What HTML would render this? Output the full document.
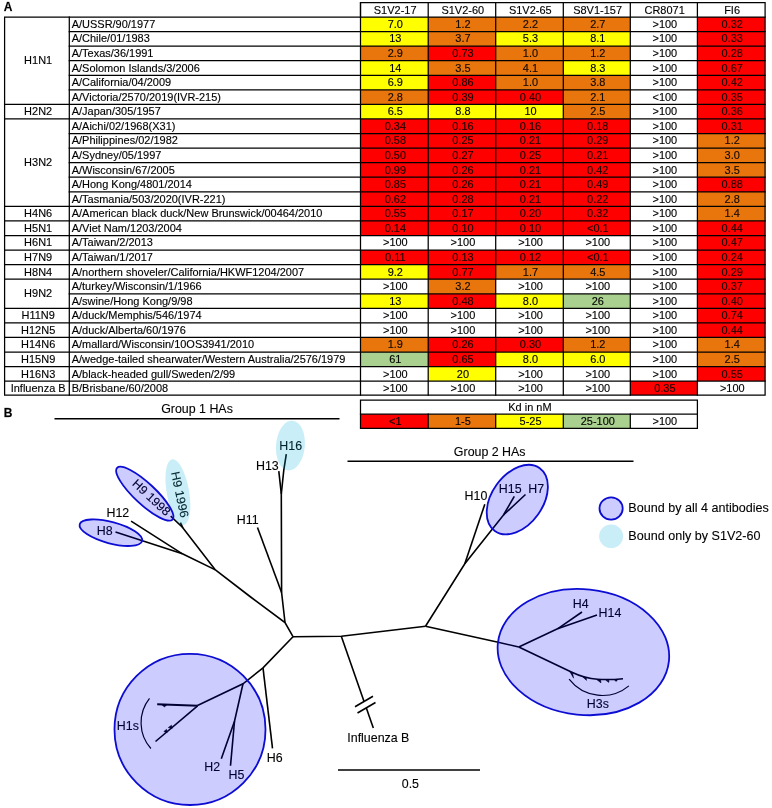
<!DOCTYPE html>
<html><head><meta charset="utf-8"><title>Figure</title>
<style>html,body{margin:0;padding:0;background:#fff;}body{width:772px;height:808px;overflow:hidden;font-family:"Liberation Sans",sans-serif;}svg{display:block;will-change:transform;}</style></head>
<body>
<svg width="772" height="808" viewBox="0 0 772 808">
<rect x="0" y="0" width="772" height="808" fill="#fff"/>
<g shape-rendering="crispEdges">
<rect x="360.50" y="17.00" width="67.70" height="14.57" fill="#ffff00"/>
<rect x="428.20" y="17.00" width="67.50" height="14.57" fill="#e8760c"/>
<rect x="495.70" y="17.00" width="67.60" height="14.57" fill="#e8760c"/>
<rect x="563.30" y="17.00" width="67.00" height="14.57" fill="#e8760c"/>
<rect x="697.40" y="17.00" width="67.70" height="14.57" fill="#ff0000"/>
<rect x="360.50" y="31.57" width="67.70" height="14.57" fill="#ffff00"/>
<rect x="428.20" y="31.57" width="67.50" height="14.57" fill="#e8760c"/>
<rect x="495.70" y="31.57" width="67.60" height="14.57" fill="#ffff00"/>
<rect x="563.30" y="31.57" width="67.00" height="14.57" fill="#ffff00"/>
<rect x="697.40" y="31.57" width="67.70" height="14.57" fill="#ff0000"/>
<rect x="360.50" y="46.13" width="67.70" height="14.57" fill="#e8760c"/>
<rect x="428.20" y="46.13" width="67.50" height="14.57" fill="#ff0000"/>
<rect x="495.70" y="46.13" width="67.60" height="14.57" fill="#e8760c"/>
<rect x="563.30" y="46.13" width="67.00" height="14.57" fill="#e8760c"/>
<rect x="697.40" y="46.13" width="67.70" height="14.57" fill="#ff0000"/>
<rect x="360.50" y="60.70" width="67.70" height="14.57" fill="#ffff00"/>
<rect x="428.20" y="60.70" width="67.50" height="14.57" fill="#e8760c"/>
<rect x="495.70" y="60.70" width="67.60" height="14.57" fill="#e8760c"/>
<rect x="563.30" y="60.70" width="67.00" height="14.57" fill="#ffff00"/>
<rect x="697.40" y="60.70" width="67.70" height="14.57" fill="#ff0000"/>
<rect x="360.50" y="75.27" width="67.70" height="14.57" fill="#ffff00"/>
<rect x="428.20" y="75.27" width="67.50" height="14.57" fill="#ff0000"/>
<rect x="495.70" y="75.27" width="67.60" height="14.57" fill="#e8760c"/>
<rect x="563.30" y="75.27" width="67.00" height="14.57" fill="#e8760c"/>
<rect x="697.40" y="75.27" width="67.70" height="14.57" fill="#ff0000"/>
<rect x="360.50" y="89.84" width="67.70" height="14.57" fill="#e8760c"/>
<rect x="428.20" y="89.84" width="67.50" height="14.57" fill="#ff0000"/>
<rect x="495.70" y="89.84" width="67.60" height="14.57" fill="#ff0000"/>
<rect x="563.30" y="89.84" width="67.00" height="14.57" fill="#e8760c"/>
<rect x="697.40" y="89.84" width="67.70" height="14.57" fill="#ff0000"/>
<rect x="360.50" y="104.40" width="67.70" height="14.57" fill="#ffff00"/>
<rect x="428.20" y="104.40" width="67.50" height="14.57" fill="#ffff00"/>
<rect x="495.70" y="104.40" width="67.60" height="14.57" fill="#ffff00"/>
<rect x="563.30" y="104.40" width="67.00" height="14.57" fill="#e8760c"/>
<rect x="697.40" y="104.40" width="67.70" height="14.57" fill="#ff0000"/>
<rect x="360.50" y="118.97" width="67.70" height="14.57" fill="#ff0000"/>
<rect x="428.20" y="118.97" width="67.50" height="14.57" fill="#ff0000"/>
<rect x="495.70" y="118.97" width="67.60" height="14.57" fill="#ff0000"/>
<rect x="563.30" y="118.97" width="67.00" height="14.57" fill="#ff0000"/>
<rect x="697.40" y="118.97" width="67.70" height="14.57" fill="#ff0000"/>
<rect x="360.50" y="133.54" width="67.70" height="14.57" fill="#ff0000"/>
<rect x="428.20" y="133.54" width="67.50" height="14.57" fill="#ff0000"/>
<rect x="495.70" y="133.54" width="67.60" height="14.57" fill="#ff0000"/>
<rect x="563.30" y="133.54" width="67.00" height="14.57" fill="#ff0000"/>
<rect x="697.40" y="133.54" width="67.70" height="14.57" fill="#e8760c"/>
<rect x="360.50" y="148.10" width="67.70" height="14.57" fill="#ff0000"/>
<rect x="428.20" y="148.10" width="67.50" height="14.57" fill="#ff0000"/>
<rect x="495.70" y="148.10" width="67.60" height="14.57" fill="#ff0000"/>
<rect x="563.30" y="148.10" width="67.00" height="14.57" fill="#ff0000"/>
<rect x="697.40" y="148.10" width="67.70" height="14.57" fill="#e8760c"/>
<rect x="360.50" y="162.67" width="67.70" height="14.57" fill="#ff0000"/>
<rect x="428.20" y="162.67" width="67.50" height="14.57" fill="#ff0000"/>
<rect x="495.70" y="162.67" width="67.60" height="14.57" fill="#ff0000"/>
<rect x="563.30" y="162.67" width="67.00" height="14.57" fill="#ff0000"/>
<rect x="697.40" y="162.67" width="67.70" height="14.57" fill="#e8760c"/>
<rect x="360.50" y="177.24" width="67.70" height="14.57" fill="#ff0000"/>
<rect x="428.20" y="177.24" width="67.50" height="14.57" fill="#ff0000"/>
<rect x="495.70" y="177.24" width="67.60" height="14.57" fill="#ff0000"/>
<rect x="563.30" y="177.24" width="67.00" height="14.57" fill="#ff0000"/>
<rect x="697.40" y="177.24" width="67.70" height="14.57" fill="#ff0000"/>
<rect x="360.50" y="191.80" width="67.70" height="14.57" fill="#ff0000"/>
<rect x="428.20" y="191.80" width="67.50" height="14.57" fill="#ff0000"/>
<rect x="495.70" y="191.80" width="67.60" height="14.57" fill="#ff0000"/>
<rect x="563.30" y="191.80" width="67.00" height="14.57" fill="#ff0000"/>
<rect x="697.40" y="191.80" width="67.70" height="14.57" fill="#e8760c"/>
<rect x="360.50" y="206.37" width="67.70" height="14.57" fill="#ff0000"/>
<rect x="428.20" y="206.37" width="67.50" height="14.57" fill="#ff0000"/>
<rect x="495.70" y="206.37" width="67.60" height="14.57" fill="#ff0000"/>
<rect x="563.30" y="206.37" width="67.00" height="14.57" fill="#ff0000"/>
<rect x="697.40" y="206.37" width="67.70" height="14.57" fill="#e8760c"/>
<rect x="360.50" y="220.94" width="67.70" height="14.57" fill="#ff0000"/>
<rect x="428.20" y="220.94" width="67.50" height="14.57" fill="#ff0000"/>
<rect x="495.70" y="220.94" width="67.60" height="14.57" fill="#ff0000"/>
<rect x="563.30" y="220.94" width="67.00" height="14.57" fill="#ff0000"/>
<rect x="697.40" y="220.94" width="67.70" height="14.57" fill="#ff0000"/>
<rect x="697.40" y="235.50" width="67.70" height="14.57" fill="#ff0000"/>
<rect x="360.50" y="250.07" width="67.70" height="14.57" fill="#ff0000"/>
<rect x="428.20" y="250.07" width="67.50" height="14.57" fill="#ff0000"/>
<rect x="495.70" y="250.07" width="67.60" height="14.57" fill="#ff0000"/>
<rect x="563.30" y="250.07" width="67.00" height="14.57" fill="#ff0000"/>
<rect x="697.40" y="250.07" width="67.70" height="14.57" fill="#ff0000"/>
<rect x="360.50" y="264.64" width="67.70" height="14.57" fill="#ffff00"/>
<rect x="428.20" y="264.64" width="67.50" height="14.57" fill="#ff0000"/>
<rect x="495.70" y="264.64" width="67.60" height="14.57" fill="#e8760c"/>
<rect x="563.30" y="264.64" width="67.00" height="14.57" fill="#e8760c"/>
<rect x="697.40" y="264.64" width="67.70" height="14.57" fill="#ff0000"/>
<rect x="428.20" y="279.21" width="67.50" height="14.57" fill="#e8760c"/>
<rect x="697.40" y="279.21" width="67.70" height="14.57" fill="#ff0000"/>
<rect x="360.50" y="293.77" width="67.70" height="14.57" fill="#ffff00"/>
<rect x="428.20" y="293.77" width="67.50" height="14.57" fill="#ff0000"/>
<rect x="495.70" y="293.77" width="67.60" height="14.57" fill="#ffff00"/>
<rect x="563.30" y="293.77" width="67.00" height="14.57" fill="#a9d08e"/>
<rect x="697.40" y="293.77" width="67.70" height="14.57" fill="#ff0000"/>
<rect x="697.40" y="308.34" width="67.70" height="14.57" fill="#ff0000"/>
<rect x="697.40" y="322.91" width="67.70" height="14.57" fill="#ff0000"/>
<rect x="360.50" y="337.47" width="67.70" height="14.57" fill="#e8760c"/>
<rect x="428.20" y="337.47" width="67.50" height="14.57" fill="#ff0000"/>
<rect x="495.70" y="337.47" width="67.60" height="14.57" fill="#ff0000"/>
<rect x="563.30" y="337.47" width="67.00" height="14.57" fill="#e8760c"/>
<rect x="697.40" y="337.47" width="67.70" height="14.57" fill="#e8760c"/>
<rect x="360.50" y="352.04" width="67.70" height="14.57" fill="#a9d08e"/>
<rect x="428.20" y="352.04" width="67.50" height="14.57" fill="#ff0000"/>
<rect x="495.70" y="352.04" width="67.60" height="14.57" fill="#ffff00"/>
<rect x="563.30" y="352.04" width="67.00" height="14.57" fill="#ffff00"/>
<rect x="697.40" y="352.04" width="67.70" height="14.57" fill="#e8760c"/>
<rect x="428.20" y="366.61" width="67.50" height="14.57" fill="#ffff00"/>
<rect x="697.40" y="366.61" width="67.70" height="14.57" fill="#ff0000"/>
<rect x="630.30" y="381.18" width="67.10" height="14.02" fill="#ff0000"/>
</g>
<rect x="360.50" y="414.20" width="67.70" height="14.20" fill="#ff0000"/>
<rect x="428.20" y="414.20" width="67.50" height="14.20" fill="#e8760c"/>
<rect x="495.70" y="414.20" width="67.60" height="14.20" fill="#ffff00"/>
<rect x="563.30" y="414.20" width="67.00" height="14.20" fill="#a9d08e"/>
<g stroke="#000" stroke-width="1.25" fill="none" stroke-linecap="square">
<path d="M4.6 17.0H765.1V395.2H4.6Z"/>
<path d="M69.3 17.0V395.2"/>
<path d="M360.5 17.0V2.7H765.1V17.0"/>
<path d="M360.5 2.7V395.2"/>
<path d="M428.2 2.7V395.2"/>
<path d="M495.7 2.7V395.2"/>
<path d="M563.3 2.7V395.2"/>
<path d="M630.3 2.7V395.2"/>
<path d="M697.4 2.7V395.2"/>
<path d="M69.3 31.57H765.1"/>
<path d="M69.3 46.13H765.1"/>
<path d="M69.3 60.70H765.1"/>
<path d="M69.3 75.27H765.1"/>
<path d="M69.3 89.84H765.1"/>
<path d="M4.6 104.40H765.1"/>
<path d="M4.6 118.97H765.1"/>
<path d="M69.3 133.54H765.1"/>
<path d="M69.3 148.10H765.1"/>
<path d="M69.3 162.67H765.1"/>
<path d="M69.3 177.24H765.1"/>
<path d="M69.3 191.80H765.1"/>
<path d="M4.6 206.37H765.1"/>
<path d="M4.6 220.94H765.1"/>
<path d="M4.6 235.50H765.1"/>
<path d="M4.6 250.07H765.1"/>
<path d="M4.6 264.64H765.1"/>
<path d="M4.6 279.21H765.1"/>
<path d="M69.3 293.77H765.1"/>
<path d="M4.6 308.34H765.1"/>
<path d="M4.6 322.91H765.1"/>
<path d="M4.6 337.47H765.1"/>
<path d="M4.6 352.04H765.1"/>
<path d="M4.6 366.61H765.1"/>
<path d="M4.6 381.18H765.1"/>
<path d="M360.5 400.0H697.4V428.4H360.5Z"/>
<path d="M360.5 414.2H697.4"/>
<path d="M428.2 414.2V428.4"/>
<path d="M495.7 414.2V428.4"/>
<path d="M563.3 414.2V428.4"/>
<path d="M630.3 414.2V428.4"/>
</g>
<g font-family="Liberation Sans, sans-serif" font-size="10.15" fill="#000" stroke="#000" stroke-width="0.22" stroke-opacity="0.55">
<text transform="translate(71.70 27.90) scale(1.083 1)" text-anchor="start">A/USSR/90/1977</text>
<text transform="translate(395.35 27.90) scale(1.083 1)" text-anchor="middle" fill="#000">7.0</text>
<text transform="translate(462.95 27.90) scale(1.083 1)" text-anchor="middle" fill="#140a00">1.2</text>
<text transform="translate(530.50 27.90) scale(1.083 1)" text-anchor="middle" fill="#140a00">2.2</text>
<text transform="translate(597.80 27.90) scale(1.083 1)" text-anchor="middle" fill="#140a00">2.7</text>
<text transform="translate(664.85 27.90) scale(1.083 1)" text-anchor="middle" fill="#000">&gt;100</text>
<text transform="translate(732.25 27.90) scale(1.083 1)" text-anchor="middle" fill="#200000">0.32</text>
<text transform="translate(71.70 42.47) scale(1.083 1)" text-anchor="start">A/Chile/01/1983</text>
<text transform="translate(395.35 42.47) scale(1.083 1)" text-anchor="middle" fill="#000">13</text>
<text transform="translate(462.95 42.47) scale(1.083 1)" text-anchor="middle" fill="#140a00">3.7</text>
<text transform="translate(530.50 42.47) scale(1.083 1)" text-anchor="middle" fill="#000">5.3</text>
<text transform="translate(597.80 42.47) scale(1.083 1)" text-anchor="middle" fill="#000">8.1</text>
<text transform="translate(664.85 42.47) scale(1.083 1)" text-anchor="middle" fill="#000">&gt;100</text>
<text transform="translate(732.25 42.47) scale(1.083 1)" text-anchor="middle" fill="#200000">0.33</text>
<text transform="translate(71.70 57.03) scale(1.083 1)" text-anchor="start">A/Texas/36/1991</text>
<text transform="translate(395.35 57.03) scale(1.083 1)" text-anchor="middle" fill="#140a00">2.9</text>
<text transform="translate(462.95 57.03) scale(1.083 1)" text-anchor="middle" fill="#200000">0.73</text>
<text transform="translate(530.50 57.03) scale(1.083 1)" text-anchor="middle" fill="#140a00">1.0</text>
<text transform="translate(597.80 57.03) scale(1.083 1)" text-anchor="middle" fill="#140a00">1.2</text>
<text transform="translate(664.85 57.03) scale(1.083 1)" text-anchor="middle" fill="#000">&gt;100</text>
<text transform="translate(732.25 57.03) scale(1.083 1)" text-anchor="middle" fill="#200000">0.28</text>
<text transform="translate(71.70 71.60) scale(1.083 1)" text-anchor="start">A/Solomon Islands/3/2006</text>
<text transform="translate(395.35 71.60) scale(1.083 1)" text-anchor="middle" fill="#000">14</text>
<text transform="translate(462.95 71.60) scale(1.083 1)" text-anchor="middle" fill="#140a00">3.5</text>
<text transform="translate(530.50 71.60) scale(1.083 1)" text-anchor="middle" fill="#140a00">4.1</text>
<text transform="translate(597.80 71.60) scale(1.083 1)" text-anchor="middle" fill="#000">8.3</text>
<text transform="translate(664.85 71.60) scale(1.083 1)" text-anchor="middle" fill="#000">&gt;100</text>
<text transform="translate(732.25 71.60) scale(1.083 1)" text-anchor="middle" fill="#200000">0.67</text>
<text transform="translate(71.70 86.17) scale(1.083 1)" text-anchor="start">A/California/04/2009</text>
<text transform="translate(395.35 86.17) scale(1.083 1)" text-anchor="middle" fill="#000">6.9</text>
<text transform="translate(462.95 86.17) scale(1.083 1)" text-anchor="middle" fill="#200000">0.86</text>
<text transform="translate(530.50 86.17) scale(1.083 1)" text-anchor="middle" fill="#140a00">1.0</text>
<text transform="translate(597.80 86.17) scale(1.083 1)" text-anchor="middle" fill="#140a00">3.8</text>
<text transform="translate(664.85 86.17) scale(1.083 1)" text-anchor="middle" fill="#000">&gt;100</text>
<text transform="translate(732.25 86.17) scale(1.083 1)" text-anchor="middle" fill="#200000">0.42</text>
<text transform="translate(71.70 100.74) scale(1.083 1)" text-anchor="start">A/Victoria/2570/2019(IVR-215)</text>
<text transform="translate(395.35 100.74) scale(1.083 1)" text-anchor="middle" fill="#140a00">2.8</text>
<text transform="translate(462.95 100.74) scale(1.083 1)" text-anchor="middle" fill="#200000">0.39</text>
<text transform="translate(530.50 100.74) scale(1.083 1)" text-anchor="middle" fill="#200000">0.40</text>
<text transform="translate(597.80 100.74) scale(1.083 1)" text-anchor="middle" fill="#140a00">2.1</text>
<text transform="translate(664.85 100.74) scale(1.083 1)" text-anchor="middle" fill="#000">&lt;100</text>
<text transform="translate(732.25 100.74) scale(1.083 1)" text-anchor="middle" fill="#200000">0.35</text>
<text transform="translate(71.70 115.30) scale(1.083 1)" text-anchor="start">A/Japan/305/1957</text>
<text transform="translate(395.35 115.30) scale(1.083 1)" text-anchor="middle" fill="#000">6.5</text>
<text transform="translate(462.95 115.30) scale(1.083 1)" text-anchor="middle" fill="#000">8.8</text>
<text transform="translate(530.50 115.30) scale(1.083 1)" text-anchor="middle" fill="#000">10</text>
<text transform="translate(597.80 115.30) scale(1.083 1)" text-anchor="middle" fill="#140a00">2.5</text>
<text transform="translate(664.85 115.30) scale(1.083 1)" text-anchor="middle" fill="#000">&gt;100</text>
<text transform="translate(732.25 115.30) scale(1.083 1)" text-anchor="middle" fill="#200000">0.36</text>
<text transform="translate(71.70 129.87) scale(1.083 1)" text-anchor="start">A/Aichi/02/1968(X31)</text>
<text transform="translate(395.35 129.87) scale(1.083 1)" text-anchor="middle" fill="#200000">0.34</text>
<text transform="translate(462.95 129.87) scale(1.083 1)" text-anchor="middle" fill="#200000">0.16</text>
<text transform="translate(530.50 129.87) scale(1.083 1)" text-anchor="middle" fill="#200000">0.16</text>
<text transform="translate(597.80 129.87) scale(1.083 1)" text-anchor="middle" fill="#200000">0.18</text>
<text transform="translate(664.85 129.87) scale(1.083 1)" text-anchor="middle" fill="#000">&gt;100</text>
<text transform="translate(732.25 129.87) scale(1.083 1)" text-anchor="middle" fill="#200000">0.31</text>
<text transform="translate(71.70 144.44) scale(1.083 1)" text-anchor="start">A/Philippines/02/1982</text>
<text transform="translate(395.35 144.44) scale(1.083 1)" text-anchor="middle" fill="#200000">0.58</text>
<text transform="translate(462.95 144.44) scale(1.083 1)" text-anchor="middle" fill="#200000">0.25</text>
<text transform="translate(530.50 144.44) scale(1.083 1)" text-anchor="middle" fill="#200000">0.21</text>
<text transform="translate(597.80 144.44) scale(1.083 1)" text-anchor="middle" fill="#200000">0.29</text>
<text transform="translate(664.85 144.44) scale(1.083 1)" text-anchor="middle" fill="#000">&gt;100</text>
<text transform="translate(732.25 144.44) scale(1.083 1)" text-anchor="middle" fill="#140a00">1.2</text>
<text transform="translate(71.70 159.00) scale(1.083 1)" text-anchor="start">A/Sydney/05/1997</text>
<text transform="translate(395.35 159.00) scale(1.083 1)" text-anchor="middle" fill="#200000">0.50</text>
<text transform="translate(462.95 159.00) scale(1.083 1)" text-anchor="middle" fill="#200000">0.27</text>
<text transform="translate(530.50 159.00) scale(1.083 1)" text-anchor="middle" fill="#200000">0.25</text>
<text transform="translate(597.80 159.00) scale(1.083 1)" text-anchor="middle" fill="#200000">0.21</text>
<text transform="translate(664.85 159.00) scale(1.083 1)" text-anchor="middle" fill="#000">&gt;100</text>
<text transform="translate(732.25 159.00) scale(1.083 1)" text-anchor="middle" fill="#140a00">3.0</text>
<text transform="translate(71.70 173.57) scale(1.083 1)" text-anchor="start">A/Wisconsin/67/2005</text>
<text transform="translate(395.35 173.57) scale(1.083 1)" text-anchor="middle" fill="#200000">0.99</text>
<text transform="translate(462.95 173.57) scale(1.083 1)" text-anchor="middle" fill="#200000">0.26</text>
<text transform="translate(530.50 173.57) scale(1.083 1)" text-anchor="middle" fill="#200000">0.21</text>
<text transform="translate(597.80 173.57) scale(1.083 1)" text-anchor="middle" fill="#200000">0.42</text>
<text transform="translate(664.85 173.57) scale(1.083 1)" text-anchor="middle" fill="#000">&gt;100</text>
<text transform="translate(732.25 173.57) scale(1.083 1)" text-anchor="middle" fill="#140a00">3.5</text>
<text transform="translate(71.70 188.14) scale(1.083 1)" text-anchor="start">A/Hong Kong/4801/2014</text>
<text transform="translate(395.35 188.14) scale(1.083 1)" text-anchor="middle" fill="#200000">0.85</text>
<text transform="translate(462.95 188.14) scale(1.083 1)" text-anchor="middle" fill="#200000">0.26</text>
<text transform="translate(530.50 188.14) scale(1.083 1)" text-anchor="middle" fill="#200000">0.21</text>
<text transform="translate(597.80 188.14) scale(1.083 1)" text-anchor="middle" fill="#200000">0.49</text>
<text transform="translate(664.85 188.14) scale(1.083 1)" text-anchor="middle" fill="#000">&gt;100</text>
<text transform="translate(732.25 188.14) scale(1.083 1)" text-anchor="middle" fill="#200000">0.88</text>
<text transform="translate(71.70 202.70) scale(1.083 1)" text-anchor="start">A/Tasmania/503/2020(IVR-221)</text>
<text transform="translate(395.35 202.70) scale(1.083 1)" text-anchor="middle" fill="#200000">0.62</text>
<text transform="translate(462.95 202.70) scale(1.083 1)" text-anchor="middle" fill="#200000">0.28</text>
<text transform="translate(530.50 202.70) scale(1.083 1)" text-anchor="middle" fill="#200000">0.21</text>
<text transform="translate(597.80 202.70) scale(1.083 1)" text-anchor="middle" fill="#200000">0.22</text>
<text transform="translate(664.85 202.70) scale(1.083 1)" text-anchor="middle" fill="#000">&gt;100</text>
<text transform="translate(732.25 202.70) scale(1.083 1)" text-anchor="middle" fill="#140a00">2.8</text>
<text transform="translate(71.70 217.27) scale(1.083 1)" text-anchor="start">A/American black duck/New Brunswick/00464/2010</text>
<text transform="translate(395.35 217.27) scale(1.083 1)" text-anchor="middle" fill="#200000">0.55</text>
<text transform="translate(462.95 217.27) scale(1.083 1)" text-anchor="middle" fill="#200000">0.17</text>
<text transform="translate(530.50 217.27) scale(1.083 1)" text-anchor="middle" fill="#200000">0.20</text>
<text transform="translate(597.80 217.27) scale(1.083 1)" text-anchor="middle" fill="#200000">0.32</text>
<text transform="translate(664.85 217.27) scale(1.083 1)" text-anchor="middle" fill="#000">&gt;100</text>
<text transform="translate(732.25 217.27) scale(1.083 1)" text-anchor="middle" fill="#140a00">1.4</text>
<text transform="translate(71.70 231.84) scale(1.083 1)" text-anchor="start">A/Viet Nam/1203/2004</text>
<text transform="translate(395.35 231.84) scale(1.083 1)" text-anchor="middle" fill="#200000">0.14</text>
<text transform="translate(462.95 231.84) scale(1.083 1)" text-anchor="middle" fill="#200000">0.10</text>
<text transform="translate(530.50 231.84) scale(1.083 1)" text-anchor="middle" fill="#200000">0.10</text>
<text transform="translate(597.80 231.84) scale(1.083 1)" text-anchor="middle" fill="#200000">&lt;0.1</text>
<text transform="translate(664.85 231.84) scale(1.083 1)" text-anchor="middle" fill="#000">&gt;100</text>
<text transform="translate(732.25 231.84) scale(1.083 1)" text-anchor="middle" fill="#200000">0.44</text>
<text transform="translate(71.70 246.41) scale(1.083 1)" text-anchor="start">A/Taiwan/2/2013</text>
<text transform="translate(395.35 246.41) scale(1.083 1)" text-anchor="middle" fill="#000">&gt;100</text>
<text transform="translate(462.95 246.41) scale(1.083 1)" text-anchor="middle" fill="#000">&gt;100</text>
<text transform="translate(530.50 246.41) scale(1.083 1)" text-anchor="middle" fill="#000">&gt;100</text>
<text transform="translate(597.80 246.41) scale(1.083 1)" text-anchor="middle" fill="#000">&gt;100</text>
<text transform="translate(664.85 246.41) scale(1.083 1)" text-anchor="middle" fill="#000">&gt;100</text>
<text transform="translate(732.25 246.41) scale(1.083 1)" text-anchor="middle" fill="#200000">0.47</text>
<text transform="translate(71.70 260.97) scale(1.083 1)" text-anchor="start">A/Taiwan/1/2017</text>
<text transform="translate(395.35 260.97) scale(1.083 1)" text-anchor="middle" fill="#200000">0.11</text>
<text transform="translate(462.95 260.97) scale(1.083 1)" text-anchor="middle" fill="#200000">0.13</text>
<text transform="translate(530.50 260.97) scale(1.083 1)" text-anchor="middle" fill="#200000">0.12</text>
<text transform="translate(597.80 260.97) scale(1.083 1)" text-anchor="middle" fill="#200000">&lt;0.1</text>
<text transform="translate(664.85 260.97) scale(1.083 1)" text-anchor="middle" fill="#000">&gt;100</text>
<text transform="translate(732.25 260.97) scale(1.083 1)" text-anchor="middle" fill="#200000">0.24</text>
<text transform="translate(71.70 275.54) scale(1.083 1)" text-anchor="start">A/northern shoveler/California/HKWF1204/2007</text>
<text transform="translate(395.35 275.54) scale(1.083 1)" text-anchor="middle" fill="#000">9.2</text>
<text transform="translate(462.95 275.54) scale(1.083 1)" text-anchor="middle" fill="#200000">0.77</text>
<text transform="translate(530.50 275.54) scale(1.083 1)" text-anchor="middle" fill="#140a00">1.7</text>
<text transform="translate(597.80 275.54) scale(1.083 1)" text-anchor="middle" fill="#140a00">4.5</text>
<text transform="translate(664.85 275.54) scale(1.083 1)" text-anchor="middle" fill="#000">&gt;100</text>
<text transform="translate(732.25 275.54) scale(1.083 1)" text-anchor="middle" fill="#200000">0.29</text>
<text transform="translate(71.70 290.11) scale(1.083 1)" text-anchor="start">A/turkey/Wisconsin/1/1966</text>
<text transform="translate(395.35 290.11) scale(1.083 1)" text-anchor="middle" fill="#000">&gt;100</text>
<text transform="translate(462.95 290.11) scale(1.083 1)" text-anchor="middle" fill="#140a00">3.2</text>
<text transform="translate(530.50 290.11) scale(1.083 1)" text-anchor="middle" fill="#000">&gt;100</text>
<text transform="translate(597.80 290.11) scale(1.083 1)" text-anchor="middle" fill="#000">&gt;100</text>
<text transform="translate(664.85 290.11) scale(1.083 1)" text-anchor="middle" fill="#000">&gt;100</text>
<text transform="translate(732.25 290.11) scale(1.083 1)" text-anchor="middle" fill="#200000">0.37</text>
<text transform="translate(71.70 304.67) scale(1.083 1)" text-anchor="start">A/swine/Hong Kong/9/98</text>
<text transform="translate(395.35 304.67) scale(1.083 1)" text-anchor="middle" fill="#000">13</text>
<text transform="translate(462.95 304.67) scale(1.083 1)" text-anchor="middle" fill="#200000">0.48</text>
<text transform="translate(530.50 304.67) scale(1.083 1)" text-anchor="middle" fill="#000">8.0</text>
<text transform="translate(597.80 304.67) scale(1.083 1)" text-anchor="middle" fill="#000">26</text>
<text transform="translate(664.85 304.67) scale(1.083 1)" text-anchor="middle" fill="#000">&gt;100</text>
<text transform="translate(732.25 304.67) scale(1.083 1)" text-anchor="middle" fill="#200000">0.40</text>
<text transform="translate(71.70 319.24) scale(1.083 1)" text-anchor="start">A/duck/Memphis/546/1974</text>
<text transform="translate(395.35 319.24) scale(1.083 1)" text-anchor="middle" fill="#000">&gt;100</text>
<text transform="translate(462.95 319.24) scale(1.083 1)" text-anchor="middle" fill="#000">&gt;100</text>
<text transform="translate(530.50 319.24) scale(1.083 1)" text-anchor="middle" fill="#000">&gt;100</text>
<text transform="translate(597.80 319.24) scale(1.083 1)" text-anchor="middle" fill="#000">&gt;100</text>
<text transform="translate(664.85 319.24) scale(1.083 1)" text-anchor="middle" fill="#000">&gt;100</text>
<text transform="translate(732.25 319.24) scale(1.083 1)" text-anchor="middle" fill="#200000">0.74</text>
<text transform="translate(71.70 333.81) scale(1.083 1)" text-anchor="start">A/duck/Alberta/60/1976</text>
<text transform="translate(395.35 333.81) scale(1.083 1)" text-anchor="middle" fill="#000">&gt;100</text>
<text transform="translate(462.95 333.81) scale(1.083 1)" text-anchor="middle" fill="#000">&gt;100</text>
<text transform="translate(530.50 333.81) scale(1.083 1)" text-anchor="middle" fill="#000">&gt;100</text>
<text transform="translate(597.80 333.81) scale(1.083 1)" text-anchor="middle" fill="#000">&gt;100</text>
<text transform="translate(664.85 333.81) scale(1.083 1)" text-anchor="middle" fill="#000">&gt;100</text>
<text transform="translate(732.25 333.81) scale(1.083 1)" text-anchor="middle" fill="#200000">0.44</text>
<text transform="translate(71.70 348.37) scale(1.083 1)" text-anchor="start">A/mallard/Wisconsin/10OS3941/2010</text>
<text transform="translate(395.35 348.37) scale(1.083 1)" text-anchor="middle" fill="#140a00">1.9</text>
<text transform="translate(462.95 348.37) scale(1.083 1)" text-anchor="middle" fill="#200000">0.26</text>
<text transform="translate(530.50 348.37) scale(1.083 1)" text-anchor="middle" fill="#200000">0.30</text>
<text transform="translate(597.80 348.37) scale(1.083 1)" text-anchor="middle" fill="#140a00">1.2</text>
<text transform="translate(664.85 348.37) scale(1.083 1)" text-anchor="middle" fill="#000">&gt;100</text>
<text transform="translate(732.25 348.37) scale(1.083 1)" text-anchor="middle" fill="#140a00">1.4</text>
<text transform="translate(71.70 362.94) scale(1.083 1)" text-anchor="start">A/wedge-tailed shearwater/Western Australia/2576/1979</text>
<text transform="translate(395.35 362.94) scale(1.083 1)" text-anchor="middle" fill="#000">61</text>
<text transform="translate(462.95 362.94) scale(1.083 1)" text-anchor="middle" fill="#200000">0.65</text>
<text transform="translate(530.50 362.94) scale(1.083 1)" text-anchor="middle" fill="#000">8.0</text>
<text transform="translate(597.80 362.94) scale(1.083 1)" text-anchor="middle" fill="#000">6.0</text>
<text transform="translate(664.85 362.94) scale(1.083 1)" text-anchor="middle" fill="#000">&gt;100</text>
<text transform="translate(732.25 362.94) scale(1.083 1)" text-anchor="middle" fill="#140a00">2.5</text>
<text transform="translate(71.70 377.51) scale(1.083 1)" text-anchor="start">A/black-headed gull/Sweden/2/99</text>
<text transform="translate(395.35 377.51) scale(1.083 1)" text-anchor="middle" fill="#000">&gt;100</text>
<text transform="translate(462.95 377.51) scale(1.083 1)" text-anchor="middle" fill="#000">20</text>
<text transform="translate(530.50 377.51) scale(1.083 1)" text-anchor="middle" fill="#000">&gt;100</text>
<text transform="translate(597.80 377.51) scale(1.083 1)" text-anchor="middle" fill="#000">&gt;100</text>
<text transform="translate(664.85 377.51) scale(1.083 1)" text-anchor="middle" fill="#000">&gt;100</text>
<text transform="translate(732.25 377.51) scale(1.083 1)" text-anchor="middle" fill="#200000">0.55</text>
<text transform="translate(71.70 392.07) scale(1.083 1)" text-anchor="start">B/Brisbane/60/2008</text>
<text transform="translate(395.35 392.07) scale(1.083 1)" text-anchor="middle" fill="#000">&gt;100</text>
<text transform="translate(462.95 392.07) scale(1.083 1)" text-anchor="middle" fill="#000">&gt;100</text>
<text transform="translate(530.50 392.07) scale(1.083 1)" text-anchor="middle" fill="#000">&gt;100</text>
<text transform="translate(597.80 392.07) scale(1.083 1)" text-anchor="middle" fill="#000">&gt;100</text>
<text transform="translate(664.85 392.07) scale(1.083 1)" text-anchor="middle" fill="#200000">0.35</text>
<text transform="translate(732.25 392.07) scale(1.083 1)" text-anchor="middle" fill="#000">&gt;100</text>
<text transform="translate(38.15 64.30) scale(1.083 1)" text-anchor="middle">H1N1</text>
<text transform="translate(38.15 115.30) scale(1.083 1)" text-anchor="middle">H2N2</text>
<text transform="translate(38.15 166.27) scale(1.083 1)" text-anchor="middle">H3N2</text>
<text transform="translate(38.15 217.27) scale(1.083 1)" text-anchor="middle">H4N6</text>
<text transform="translate(38.15 231.84) scale(1.083 1)" text-anchor="middle">H5N1</text>
<text transform="translate(38.15 246.41) scale(1.083 1)" text-anchor="middle">H6N1</text>
<text transform="translate(38.15 260.97) scale(1.083 1)" text-anchor="middle">H7N9</text>
<text transform="translate(38.15 275.54) scale(1.083 1)" text-anchor="middle">H8N4</text>
<text transform="translate(38.15 297.37) scale(1.083 1)" text-anchor="middle">H9N2</text>
<text transform="translate(38.15 319.24) scale(1.083 1)" text-anchor="middle">H11N9</text>
<text transform="translate(38.15 333.81) scale(1.083 1)" text-anchor="middle">H12N5</text>
<text transform="translate(38.15 348.37) scale(1.083 1)" text-anchor="middle">H14N6</text>
<text transform="translate(38.15 362.94) scale(1.083 1)" text-anchor="middle">H15N9</text>
<text transform="translate(38.15 377.51) scale(1.083 1)" text-anchor="middle">H16N3</text>
<text transform="translate(38.15 392.07) scale(1.083 1)" text-anchor="middle">Influenza B</text>
<text transform="translate(395.15 13.60) scale(1.083 1)" text-anchor="middle">S1V2-17</text>
<text transform="translate(462.75 13.60) scale(1.083 1)" text-anchor="middle">S1V2-60</text>
<text transform="translate(530.30 13.60) scale(1.083 1)" text-anchor="middle">S1V2-65</text>
<text transform="translate(597.60 13.60) scale(1.083 1)" text-anchor="middle">S8V1-157</text>
<text transform="translate(664.65 13.60) scale(1.083 1)" text-anchor="middle">CR8071</text>
<text transform="translate(732.05 13.60) scale(1.083 1)" text-anchor="middle">FI6</text>
<text transform="translate(529.95 410.50) scale(1.083 1)" text-anchor="middle">Kd in nM</text>
<text transform="translate(395.35 424.60) scale(1.083 1)" text-anchor="middle">&lt;1</text>
<text transform="translate(462.95 424.60) scale(1.083 1)" text-anchor="middle">1-5</text>
<text transform="translate(530.50 424.60) scale(1.083 1)" text-anchor="middle">5-25</text>
<text transform="translate(597.80 424.60) scale(1.083 1)" text-anchor="middle">25-100</text>
<text transform="translate(664.85 424.60) scale(1.083 1)" text-anchor="middle">&gt;100</text>
</g>
<g font-family="Liberation Sans, sans-serif" font-size="12" font-weight="bold" fill="#000" stroke="#000" stroke-width="0.3" stroke-opacity="0.6">
<text x="3.8" y="10.6">A</text>
<text x="3.8" y="417">B</text>
</g>
<g stroke="#000" stroke-width="1.6" fill="none" stroke-linecap="butt" stroke-linejoin="miter">
<path d="M54.5 418.8H339.5"/>
<path d="M347.5 461.2H633.5"/>
<path d="M338 770H480"/>
<path d="M115.5 532.1L182.4 553.8"/>
<path d="M131.1 521.1L182.4 553.8L215.4 569.9"/>
<path d="M170.7 516.2L182.4 527.2L215.4 569.9"/>
<path d="M180.4 522.7L182.9 527.8"/>
<path d="M215.4 569.9L250 596.5L285 622.5L293 636.7"/>
<path d="M286.3 454.2L283.8 470L281.3 493.8"/>
<path d="M278.8 471.2L281.3 493.8L281.6 592.5L285 622.5"/>
<path d="M257.5 527.5L281.6 592.5"/>
<path d="M293 636.7L341.3 636.3L425.5 626.3"/>
<path d="M341.3 636.3L364.05 701.5"/>
<path d="M366.25 707.8L373.3 728"/>
<path d="M355 706.8L373 696.3"/>
<path d="M357.5 713L375.5 702.5"/>
<path d="M293 636.7L263 667.8L243 683.8L197.5 705.5"/>
<path d="M263 667.8L272.5 748.3"/>
<path d="M197.6 705.8L155.5 741.5"/>
<path d="M243 683.8L234.5 721.3L221.3 758.8"/>
<path d="M234.5 721.3L230.5 765.8"/>
<path d="M425.5 626.3L464.8 563.8L503.5 515L525.5 494.5"/>
<path d="M464.8 563.8L484.8 504.3"/>
<path d="M503.5 515L514.3 496.3"/>
<path d="M425.5 626.3L497 642L518.8 647"/>
<path d="M518.8 647L557.5 628.8L597 615"/>
<path d="M557.5 628.8L582 612"/>
<path d="M518.8 647L571.3 672Q585 678.5 597.5 679.3Q610 680 623 678.7"/>
<path d="M197.8 705.8L157.2 704.3" stroke-width="1.9"/>
</g>
<g stroke="#000" stroke-width="1.2" fill="none">
<path d="M149.5 698.3A39.1 39.1 0 0 0 150.9 748.5"/>
<path d="M569.1 679.2A41.9 41.9 0 0 0 628.9 685.9"/>
</g>
<g stroke="#000" stroke-width="0.5" fill="#000" stroke-linejoin="round">
<path d="M569.6 671.3L573.6 678.2L572.6 672.9Z"/>
<path d="M582.6 676.8L586.5 680.4L586.2 677.9Z"/>
<path d="M596.6 679.5L601 682.9L600.6 680Z"/>
<path d="M605.8 680.2L608.8 682.4L609 680.3Z"/>
<path d="M614.6 680.1L616.2 681.5L617.4 679.9Z"/>
<path d="M161.5 704.6L164.4 706.9L166.8 704.9Z"/>
<path d="M168.2 727.6L172.3 728.3L171.5 725.2Z"/>
<path d="M163.8 731.5L167.2 732.6L166.6 729.3Z"/>
</g>
<g font-family="Liberation Sans, sans-serif" font-size="12.15" fill="#000" stroke="#000" stroke-width="0.2" stroke-opacity="0.5">
<text transform="translate(197 413) scale(1.022 1)" text-anchor="middle">Group 1 HAs</text>
<text transform="translate(489.7 455.5) scale(1.022 1)" text-anchor="middle">Group 2 HAs</text>
<text transform="translate(410.4 787.5) scale(1.022 1)" text-anchor="middle">0.5</text>
<text transform="translate(347.3 741.8) scale(1.022 1)" text-anchor="start">Influenza B</text>
<text transform="translate(279.3 450) scale(1.022 1)" text-anchor="start">H16</text>
<text transform="translate(256 470) scale(1.022 1)" text-anchor="start">H13</text>
<text transform="translate(236.8 523.8) scale(1.022 1)" text-anchor="start">H11</text>
<text transform="translate(106.5 516.8) scale(1.022 1)" text-anchor="start">H12</text>
<text transform="translate(96.7 535.2) scale(1.022 1)" text-anchor="start">H8</text>
<text transform="translate(464.6 500) scale(1.022 1)" text-anchor="start">H10</text>
<text transform="translate(498.8 492.5) scale(1.022 1)" text-anchor="start">H15</text>
<text transform="translate(528.3 493.3) scale(1.022 1)" text-anchor="start">H7</text>
<text transform="translate(572.8 607.5) scale(1.022 1)" text-anchor="start">H4</text>
<text transform="translate(598.6 616.8) scale(1.022 1)" text-anchor="start">H14</text>
<text transform="translate(586.8 708) scale(1.022 1)" text-anchor="start">H3s</text>
<text transform="translate(116.8 730) scale(1.022 1)" text-anchor="start">H1s</text>
<text transform="translate(204.3 770.5) scale(1.022 1)" text-anchor="start">H2</text>
<text transform="translate(228.6 778.8) scale(1.022 1)" text-anchor="start">H5</text>
<text transform="translate(266.8 761.7) scale(1.022 1)" text-anchor="start">H6</text>
<text transform="translate(628.3 512.2) scale(1.037 1)" text-anchor="start">Bound by all 4 antibodies</text>
<text transform="translate(628.3 540.2) scale(1.037 1)" text-anchor="start">Bound only by S1V2-60</text>
<text transform="translate(131.4 484.6) rotate(43) scale(1.022 1)" text-anchor="start">H9 1998</text>
<text transform="translate(170.9 472.5) rotate(78) scale(1.022 1)" text-anchor="start">H9 1996</text>
</g>
<g stroke-width="1.8">
<ellipse cx="177.9" cy="492.1" rx="33.3" ry="11.2" transform="rotate(80 177.9 492.1)" fill="#00aede" fill-opacity="0.21" stroke="none"/>
<ellipse cx="290.4" cy="445.6" rx="14.4" ry="25" transform="rotate(5 290.6 445.7)" fill="#00aede" fill-opacity="0.21" stroke="none"/>
<ellipse cx="110.9" cy="532.7" rx="32.3" ry="10.7" transform="rotate(15 110.9 532.7)" fill="#0000ff" fill-opacity="0.2" stroke="#0c0cd2"/>
<ellipse cx="144.8" cy="493.7" rx="37.9" ry="10.5" transform="rotate(43 144.8 493.7)" fill="#0000ff" fill-opacity="0.2" stroke="#0c0cd2"/>
<ellipse cx="517.3" cy="499.6" rx="25.5" ry="38.6" transform="rotate(35.6 517.3 499.6)" fill="#0000ff" fill-opacity="0.2" stroke="#0c0cd2"/>
<ellipse cx="583.4" cy="652.1" rx="86.0" ry="62.8" transform="rotate(6 583.4 652.1)" fill="#0000ff" fill-opacity="0.2" stroke="#0c0cd2"/>
<ellipse cx="190" cy="729.4" rx="75.5" ry="75.6" fill="#0000ff" fill-opacity="0.2" stroke="#0c0cd2"/>
<ellipse cx="611.1" cy="508.5" rx="11.6" ry="11.2" fill="#0000ff" fill-opacity="0.2" stroke="#0c0cd2"/>
<ellipse cx="611.1" cy="536.3" rx="12" ry="11.8" fill="#00aede" fill-opacity="0.21" stroke="none"/>
</g>
</svg>
</body></html>
